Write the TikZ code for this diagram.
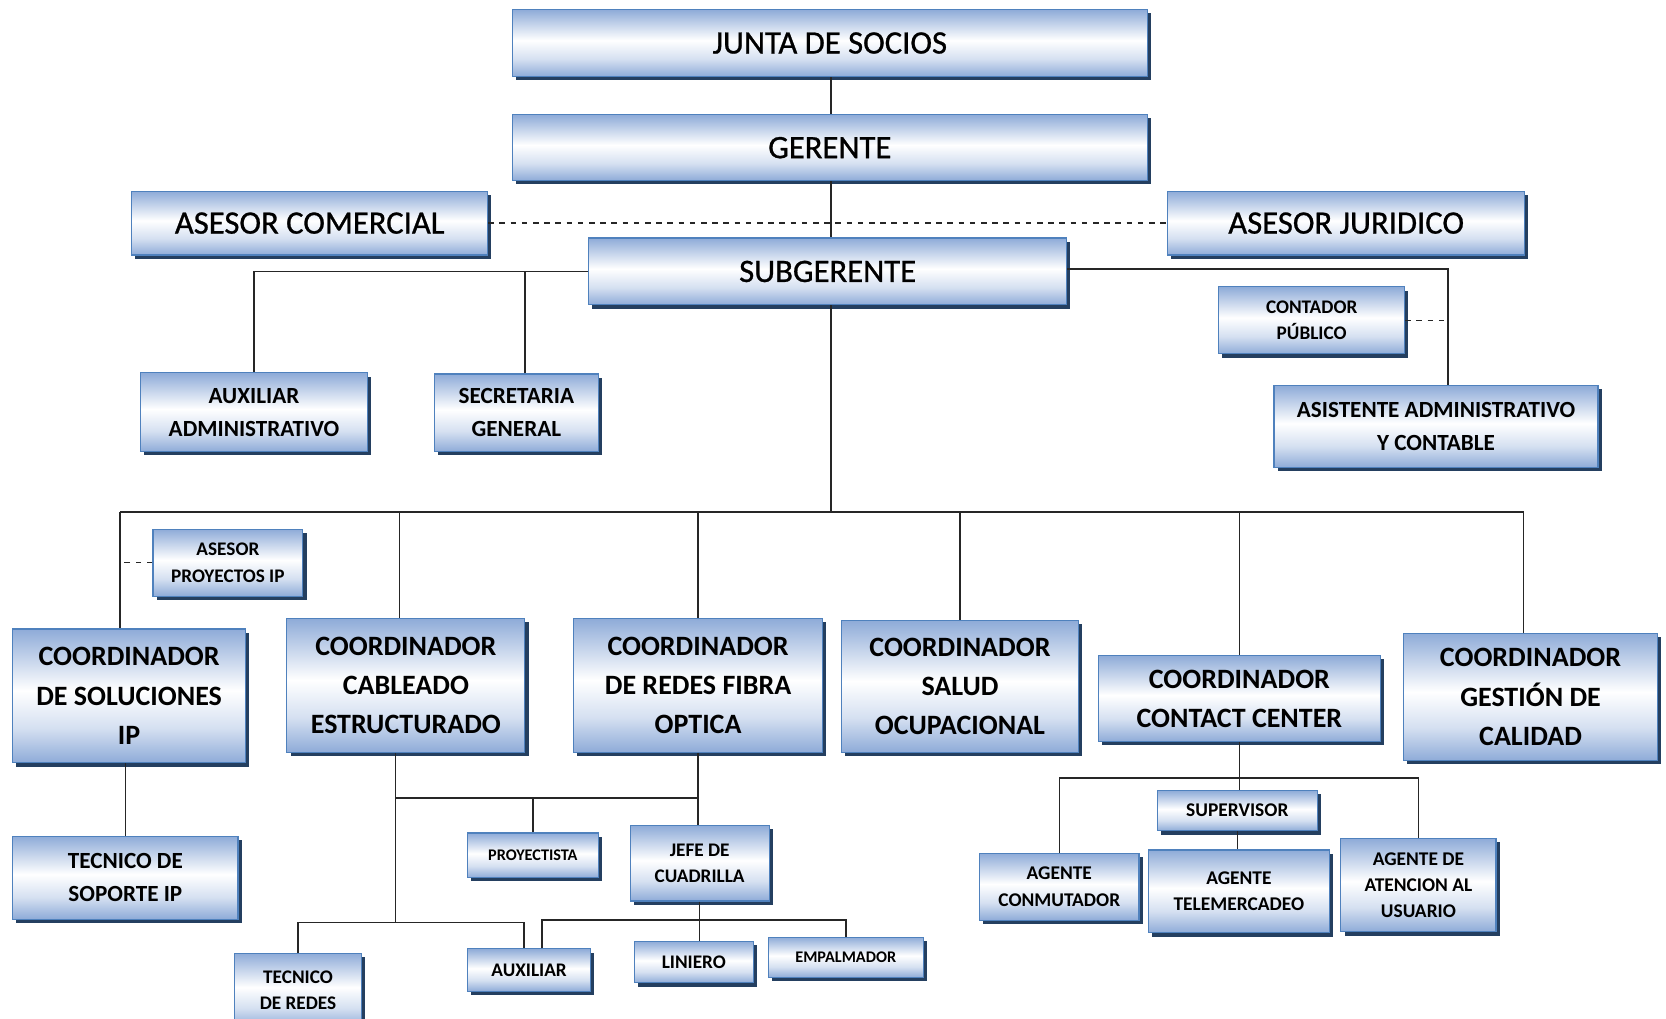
\documentclass[tikz,border=0pt]{standalone}
\usepackage{fontspec}
\setmainfont{Carlito}
\newfontfamily\medfont[FakeBold=0.8]{Carlito}
\usetikzlibrary{shadows}

\definecolor{boxborder}{HTML}{4F81BD}
\definecolor{shadeblue}{HTML}{8EABD8}
\definecolor{shadelight}{HTML}{D5E0F1}
\definecolor{shadownavy}{HTML}{243F60}
\pgfdeclareverticalshading{boxshade}{100bp}{color(0bp)=(shadeblue); color(25bp)=(shadeblue); color(38bp)=(shadelight); color(52bp)=(white); color(75bp)=(shadeblue); color(100bp)=(shadeblue)}

\begin{document}
\begin{tikzpicture}[
    x=0.02cm, y=-0.02cm,
    box/.style={draw=boxborder, line width=0.6pt, shade, shading=boxshade, align=center, inner sep=1pt,
        drop shadow={shadow xshift=0.07cm, shadow yshift=-0.07cm, fill=shadownavy, opacity=1}},
    sz/.style 2 args={minimum width=#1*0.02cm, minimum height=#2*0.02cm},
    txtbig/.style={font=\medfont\fontsize{17.5}{21}\selectfont},
    txtcoord/.style={font=\bfseries\fontsize{15}{21}\selectfont},
    txtmid/.style={font=\bfseries\fontsize{12.4}{17.6}\selectfont},
    txtsmall/.style={font=\bfseries\fontsize{10.3}{14.2}\selectfont},
    txtsmallb/.style={font=\bfseries\fontsize{10.4}{14}\selectfont},
    txttiny/.style={font=\bfseries\fontsize{8.7}{11}\selectfont},
    link/.style={draw=black!85, line width=0.8pt}
]
\useasboundingbox (0,0) rectangle (1568,959);
\fill[white] (0,0) rectangle (1568,959);
\clip (0,0) rectangle (1568,959);

% top levels
\node[box, sz={598}{63}, txtbig] (junta) at (781,40.5) {JUNTA DE SOCIOS};
\node[box, sz={598}{62}, txtbig] (gerente) at (781,139) {GERENTE};
\node[box, sz={335}{60}, txtbig] (comercial) at (291.5,210) {ASESOR COMERCIAL};
\node[box, sz={336}{60}, txtbig] (juridico) at (1267,210) {ASESOR JURIDICO};
\node[box, sz={450}{63}, txtbig] (subgerente) at (779,255.5) {SUBGERENTE};

% staff
\node[box, sz={214}{74}, txtmid] (auxadm) at (239,388) {AUXILIAR\\ADMINISTRATIVO};
\node[box, sz={154}{73}, txtmid] (secretaria) at (486,388.5) {SECRETARIA\\GENERAL};
\node[box, sz={175}{63}, txtsmall] (contador) at (1234.5,301.5) {CONTADOR\\PÚBLICO};
\node[box, sz={305}{77}, txtmid] (asistente) at (1351.5,401.5) {ASISTENTE ADMINISTRATIVO\\Y CONTABLE};
\node[box, sz={141}{63}, txtsmall] (asesorip) at (214.5,529.5) {ASESOR\\PROYECTOS IP};

% coordinators
\node[box, sz={219}{126}, txtcoord] (coordip) at (121.5,655) {COORDINADOR\\DE SOLUCIONES\\IP};
\node[box, sz={224}{126}, txtcoord] (cableado) at (382,645) {COORDINADOR\\CABLEADO\\ESTRUCTURADO};
\node[box, sz={234}{126}, txtcoord] (fibra) at (657,645) {COORDINADOR\\DE REDES FIBRA\\OPTICA};
\node[box, sz={223}{124}, txtcoord] (salud) at (903.5,646) {COORDINADOR\\SALUD\\OCUPACIONAL};
\node[box, sz={265}{81}, txtcoord] (contact) at (1166.5,657.5) {COORDINADOR\\CONTACT CENTER};
\node[box, sz={239}{120}, txtcoord] (calidad) at (1440.5,656) {COORDINADOR\\GESTIÓN DE\\CALIDAD};

% operative staff
\node[box, sz={212}{78}, txtmid] (soporteip) at (118,826) {TECNICO DE\\SOPORTE IP};
\node[box, sz={123}{42}, txttiny] (proyectista) at (501.5,805) {PROYECTISTA};
\node[box, sz={131}{71}, txtsmall] (jefe) at (658.5,812.5) {JEFE DE\\CUADRILLA};
\node[box, sz={119}{70}, txtsmall] (tecredes) at (280.5,932) {TECNICO\\DE REDES};
\node[box, sz={116}{40}, txtsmall] (auxiliar) at (498,913) {AUXILIAR};
\node[box, sz={112}{39}, txtsmall] (liniero) at (653,905.5) {LINIERO};
\node[box, sz={146}{38}, txttiny] (empalmador) at (796,901) {EMPALMADOR};
\node[box, sz={151}{38}, txtsmallb] (supervisor) at (1164.5,763) {SUPERVISOR};
\node[box, sz={150}{63}, txtsmallb] (conmutador) at (997,834.5) {AGENTE\\CONMUTADOR};
\node[box, sz={170}{78}, txtsmallb] (telemercadeo) at (1166,839) {AGENTE\\TELEMERCADEO};
\node[box, sz={146}{88}, txtsmallb] (atencion) at (1335,833) {AGENTE DE\\ATENCION AL\\USUARIO};

% junctions
\coordinate (bus) at (782,482);
\coordinate (b1) at (113,482);
\coordinate (b2) at (376,482);
\coordinate (b6) at (1434,482);
\coordinate (rj) at (1363,253);
\coordinate (jc) at (372,868);
\coordinate (jf) at (657,751);
\coordinate (jj) at (657,866);
\coordinate (jcc) at (1166.5,732);

% upper connectors
\draw[link] (junta.south -| bus) -- (gerente.north -| bus);
\draw[link] (gerente.south -| bus) -- (subgerente.north -| bus);
\draw[link, dashed] (comercial.east) -- (juridico.west);
\draw[link] (subgerente.west) -| (auxadm.north);
\draw[link] ([xshift=0.16cm]secretaria.north) -- ([xshift=0.16cm]secretaria.north |- subgerente.west);
\draw[link] (subgerente.east |- rj) -- (rj) -- (rj |- asistente.north);
\draw[link, dashed] (contador.east) -- (contador.east -| rj);

% coordinators bus
\draw[link] (subgerente.south -| bus) -- (bus);
\draw[link] (b1) -- (b6);
\draw[link] (b1) -- (b1 |- coordip.north);
\draw[link] (b2) -- (b2 |- cableado.north);
\draw[link] (fibra.north |- bus) -- (fibra.north);
\draw[link] (salud.north |- bus) -- (salud.north);
\draw[link] (contact.north |- bus) -- (contact.north);
\draw[link] (b6) -- (b6 |- calidad.north);
\draw[link, dashed] (asesorip.west) -- (asesorip.west -| b1);

% lower left
\draw[link] (soporteip.north |- coordip.south) -- (soporteip.north);
\draw[link] (cableado.south -| jc) -- (jc);
\draw[link] (fibra.south) -- (jf) -- (jf -| jc);
\draw[link] (jf) -- (jf |- jefe.north);
\draw[link] (proyectista.north) -- (proyectista.north |- jf);
\draw[link] (tecredes.north) |- (jc) -| ([xshift=-0.1cm]auxiliar.north);
\draw[link] (jefe.south) -- (jefe.south |- liniero.north);
\draw[link] ([xshift=0.24cm]auxiliar.north) |- (jj) -| (empalmador.north);

% contact center
\draw[link] (contact.south) -- (contact.south |- supervisor.north);
\draw[link] (conmutador.north) |- (jcc) -| (atencion.north);
\draw[link] (supervisor.south) -- (supervisor.south |- telemercadeo.north);

\end{tikzpicture}
\end{document}
